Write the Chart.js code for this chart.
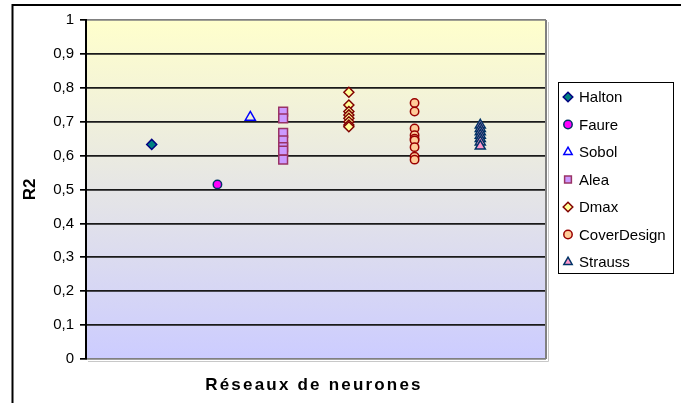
<!DOCTYPE html>
<html>
<head>
<meta charset="utf-8">
<script src="https://cdn.jsdelivr.net/npm/chart.js@4/dist/chart.umd.min.js"></script>
<style>
  body { margin: 0; background: #fff; }
  canvas { display: block; }
</style>
</head>
<body>
<canvas id="chart" width="681" height="403"></canvas>
<script>
// position de chaque série sur l'axe x (axe caché)
const seriesNames = ['Halton', 'Faure', 'Sobol', 'Alea', 'Dmax', 'CoverDesign', 'Strauss'];
const seriesX = [1, 2, 2.5, 3, 4, 5, 6];

// valeurs R2
const halton = [0.633];
const faure = [0.515];
const sobol = [0.713];
const alea = [0.73, 0.71, 0.667, 0.645, 0.625, 0.615, 0.588];
const dmax = [0.787, 0.749, 0.73, 0.72, 0.71, 0.70, 0.69, 0.685];
const coverDesign = [0.755, 0.73, 0.68, 0.66, 0.65, 0.645, 0.625, 0.597, 0.588];
const strauss = [0.69, 0.68, 0.67, 0.66, 0.65, 0.64, 0.628];

const yTicks = [0, 0.1, 0.2, 0.3, 0.4, 0.5, 0.6, 0.7, 0.8, 0.9, 1];
const xTitle = 'Réseaux de neurones';
const yTitle = 'R2';

const allValues = [halton, faure, sobol, alea, dmax, coverDesign, strauss];
const styles = [
  { pointStyle: 'rectRot', radius: 5, bg: '#008080', border: '#000080' },
  { pointStyle: 'circle', radius: 4.2, bg: '#FF00FF', border: '#003366' },
  { pointStyle: 'triangle', radius: 5.8, bg: 'rgba(0,0,0,0)', border: '#0000FF' },
  { pointStyle: 'rect', radius: 6.2, bg: '#CC99FF', border: '#993366' },
  { pointStyle: 'rectRot', radius: 5, bg: '#FFFF99', border: '#800000' },
  { pointStyle: 'circle', radius: 4.2, bg: '#FFCC99', border: '#990000' },
  { pointStyle: 'triangle', radius: 5.8, bg: '#FF99CC', border: '#003366' }
];

const datasets = seriesNames.map(function (name, i) {
  return {
    label: name,
    data: allValues[i].map(v => ({ x: seriesX[i], y: v })),
    showLine: false,
    pointStyle: styles[i].pointStyle,
    pointRadius: styles[i].radius,
    pointHoverRadius: styles[i].radius,
    pointBackgroundColor: styles[i].bg,
    pointBorderColor: styles[i].border,
    pointBorderWidth: 1.5
  };
});

const FONT = "'Liberation Sans', Arial, sans-serif";

// fond dégradé, cadre, légende et titre de l'axe x
const decor = {
  id: 'decor',
  beforeDraw(chart) {
    const ctx = chart.ctx;
    const a = chart.chartArea;
    ctx.save();
    const g = ctx.createLinearGradient(0, a.top, 0, a.bottom);
    g.addColorStop(0, '#FFFFCC');
    g.addColorStop(1, '#CCCCFF');
    ctx.fillStyle = g;
    ctx.fillRect(a.left, a.top, a.right - a.left, a.bottom - a.top);
    // cadre extérieur
    ctx.strokeStyle = '#000';
    ctx.lineWidth = 2;
    ctx.beginPath();
    ctx.moveTo(12.5, 403);
    ctx.lineTo(12.5, 5);
    ctx.lineTo(681, 5);
    ctx.stroke();
    ctx.restore();
  },
  afterDatasetsDraw(chart) {
    const ctx = chart.ctx;
    const a = chart.chartArea;
    ctx.save();
    // bord droit gris + ombre
    ctx.strokeStyle = '#c8c8c8';
    ctx.lineWidth = 1;
    ctx.beginPath();
    ctx.moveTo(a.right + 2.5, a.top + 2);
    ctx.lineTo(a.right + 2.5, a.bottom + 2.5);
    ctx.lineTo(a.left + 2, a.bottom + 2.5);
    ctx.stroke();
    ctx.strokeStyle = '#808080';
    ctx.lineWidth = 2;
    ctx.beginPath();
    ctx.moveTo(a.right, a.top);
    ctx.lineTo(a.right, a.bottom);
    ctx.stroke();

    // titre axe x
    ctx.fillStyle = '#000';
    ctx.font = 'bold 17px ' + FONT;
    ctx.textAlign = 'center';
    ctx.textBaseline = 'middle';
    ctx.letterSpacing = '2.2px';
    ctx.fillText(xTitle, (a.left + a.right) / 2 - 2, 385);
    ctx.letterSpacing = '0px';

    // légende
    const lx = 558, ly = 82, lw = 115, lh = 191;
    ctx.fillStyle = '#fff';
    ctx.fillRect(lx, ly, lw, lh);
    ctx.strokeStyle = '#000';
    ctx.lineWidth = 1;
    ctx.strokeRect(lx + 0.5, ly + 0.5, lw, lh);
    ctx.font = '15px ' + FONT;
    ctx.textAlign = 'left';
    ctx.textBaseline = 'middle';
    chart.data.datasets.forEach(function (ds, i) {
      const y = 97 + i * 27.5;
      ctx.fillStyle = ds.pointBackgroundColor;
      ctx.strokeStyle = ds.pointBorderColor;
      ctx.lineWidth = 1.5;
      Chart.helpers.drawPoint(ctx, {
        pointStyle: ds.pointStyle,
        radius: Math.min(ds.pointRadius, 4.8),
        rotation: 0,
        borderWidth: 1.5
      }, 568, y);
      ctx.fillStyle = '#000';
      ctx.fillText(ds.label, 579, y + 1);
    });
    ctx.restore();
  }
};

new Chart(document.getElementById('chart'), {
  type: 'scatter',
  data: { datasets: datasets },
  options: {
    responsive: false,
    animation: false,
    devicePixelRatio: 1,
    layout: { padding: { left: 0, top: 20, right: 135, bottom: 44 } },
    plugins: {
      legend: { display: false },
      tooltip: { enabled: false }
    },
    scales: {
      x: { type: 'linear', min: 0, max: 7, display: false },
      y: {
        type: 'linear',
        min: 0,
        max: 1,
        afterFit(scale) { scale.width = 86; },
        afterBuildTicks(scale) { scale.ticks = yTicks.map(v => ({ value: v })); },
        ticks: {
          padding: 6,
          color: '#000',
          font: { family: FONT, size: 15 },
          callback: v => String(Number(v.toFixed(1))).replace('.', ',')
        },
        grid: {
          color: c => (c.tick && (c.tick.value === 0 || c.tick.value === 1)) ? '#808080' : '#1a1a1a',
          lineWidth: 1.7,
          tickLength: 6,
          tickColor: '#000'
        },
        border: { color: '#000', width: 2 },
        title: {
          display: true,
          text: yTitle,
          color: '#000',
          font: { family: FONT, size: 17, weight: 'bold' },
          padding: { top: 20, bottom: 0 }
        }
      }
    }
  },
  plugins: [decor]
});
</script>
</body>
</html>
